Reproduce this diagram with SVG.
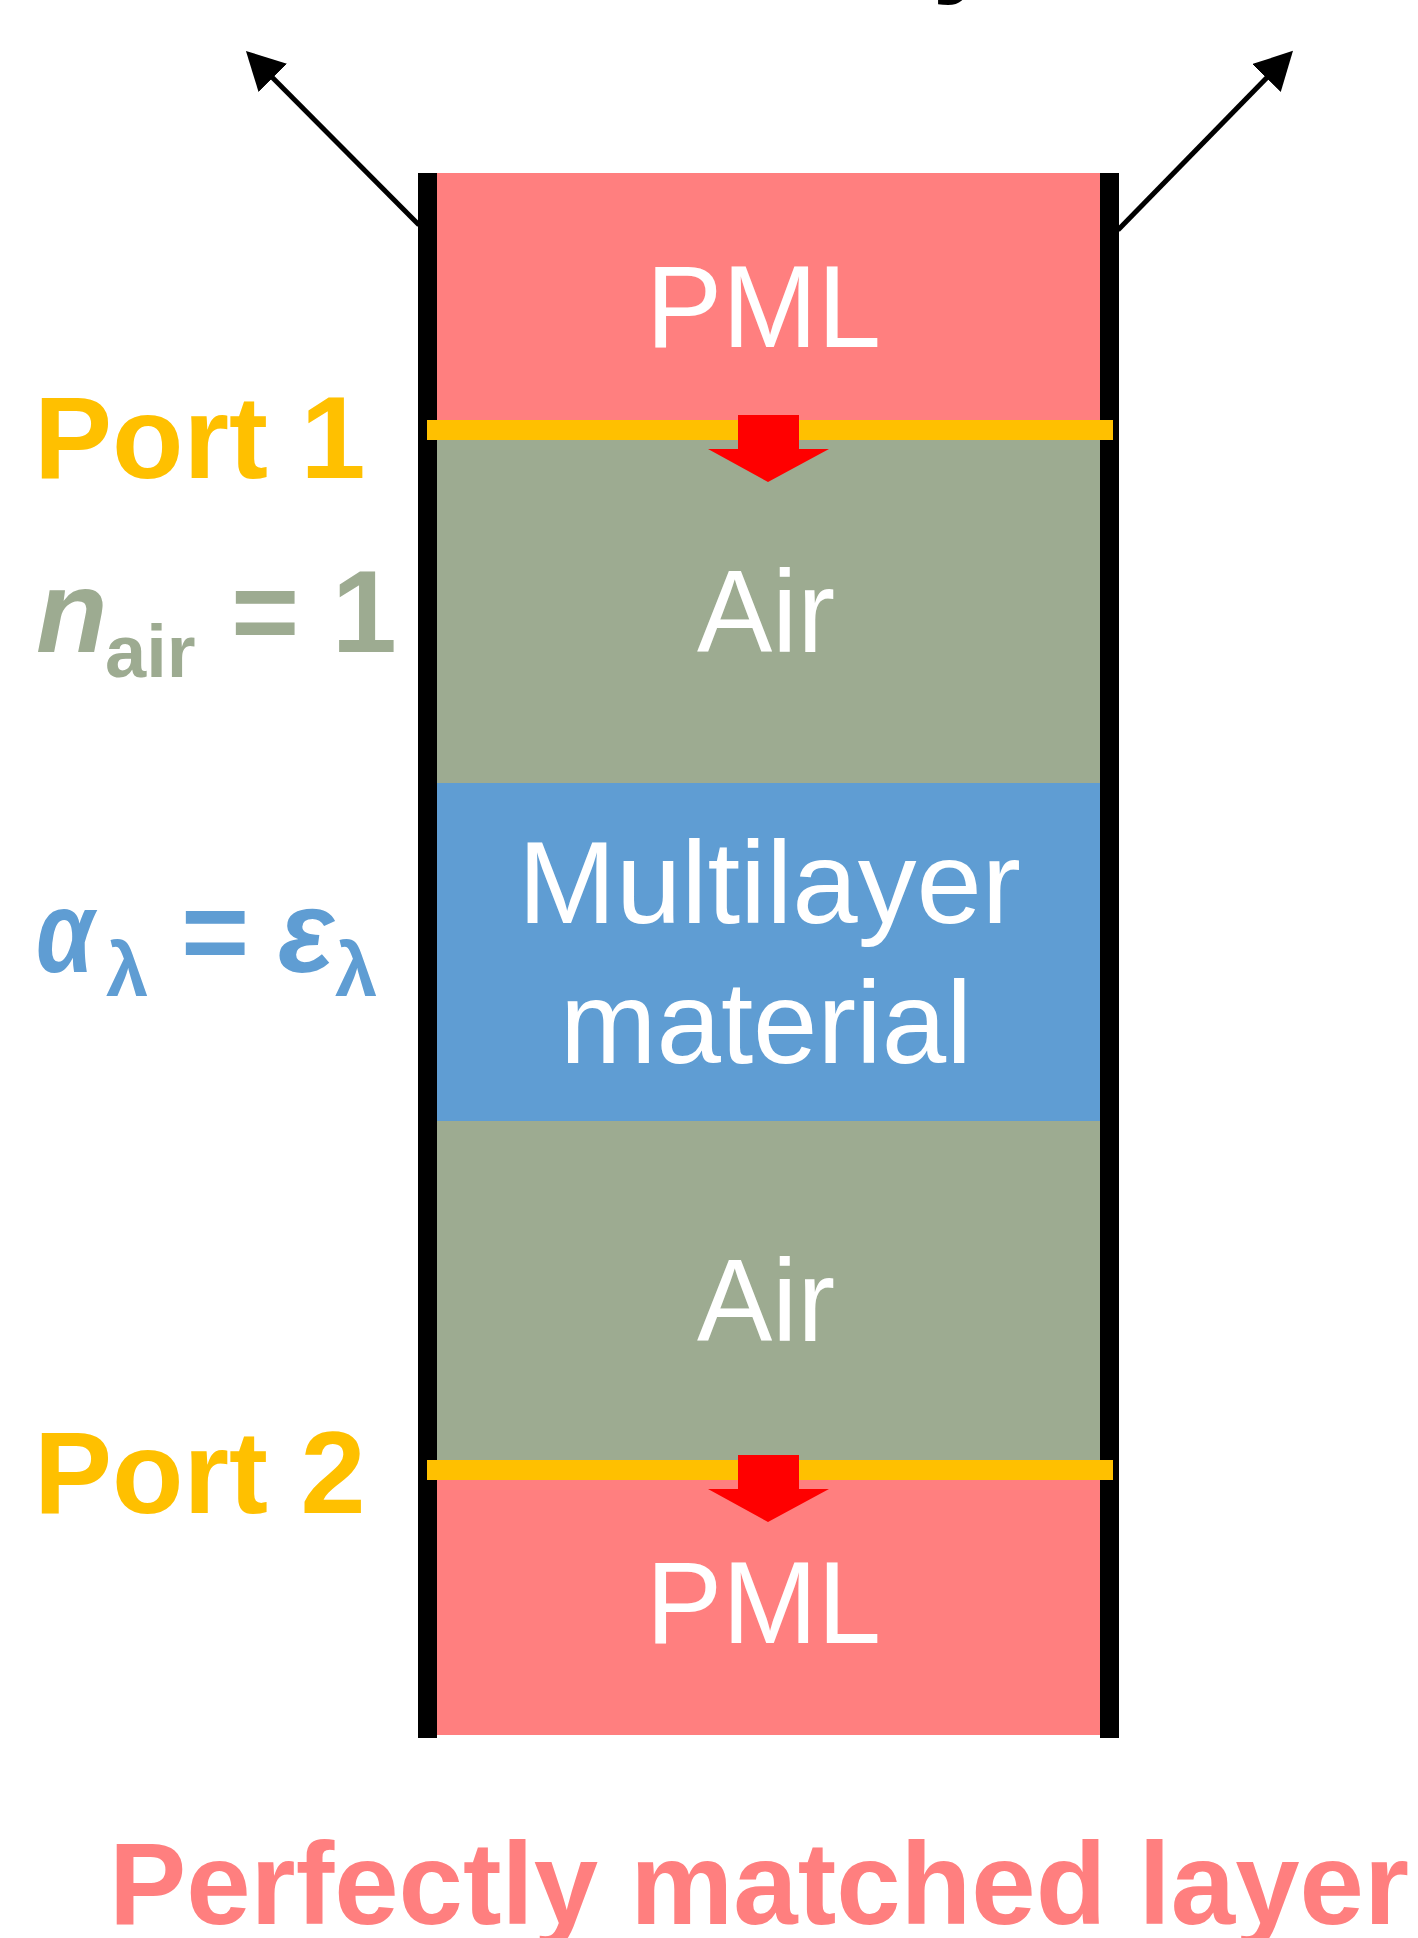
<svg xmlns="http://www.w3.org/2000/svg" width="1418" height="1938" viewBox="0 0 1418 1938">
<style>
.lbl{font-family:"Liberation Sans",Arial,sans-serif;fill:#fff;font-size:117px}
.bold{font-family:"Liberation Sans",Arial,sans-serif;font-weight:bold;font-size:117px}
.pml{fill:#FF7F7F}
.air{fill:#9DAB91}
.ml{fill:#5F9DD3}
.bar{fill:#000}
.port{fill:#FFC000}
.flow{fill:#FF0000}
.ray{stroke:#000;stroke-width:5;fill:none}
</style>
<defs>
<marker id="ah" viewBox="0 0 38 40" refX="28" refY="20" markerWidth="38" markerHeight="40" markerUnits="userSpaceOnUse" orient="auto">
<path d="M0,0 L38,20 L0,40 z" fill="#000"/>
</marker>
</defs>
<rect width="1418" height="1938" fill="#fff"/>
<text class="bold" x="932" y="-19" fill="#000">y</text>
<g id="pml-top"><rect class="pml" x="437" y="173" width="663" height="257"/><text class="lbl" x="646" y="347" textLength="235" lengthAdjust="spacingAndGlyphs">PML</text></g>
<g id="air-top"><rect class="air" x="437" y="430" width="663" height="353"/><text class="lbl" x="697" y="652" textLength="138" lengthAdjust="spacingAndGlyphs">Air</text></g>
<g id="multilayer"><rect class="ml" x="437" y="783" width="663" height="338"/><text class="lbl" x="518" y="923" textLength="503" lengthAdjust="spacingAndGlyphs">Multilayer</text><text class="lbl" x="560" y="1063" textLength="412" lengthAdjust="spacingAndGlyphs">material</text></g>
<g id="air-bottom"><rect class="air" x="437" y="1121" width="663" height="349"/><text class="lbl" x="697" y="1341" textLength="138" lengthAdjust="spacingAndGlyphs">Air</text></g>
<g id="pml-bottom"><rect class="pml" x="437" y="1470" width="663" height="265"/><text class="lbl" x="646" y="1643" textLength="235" lengthAdjust="spacingAndGlyphs">PML</text></g>
<g id="boundaries"><rect class="bar" x="418" y="173" width="19" height="1565"/><rect class="bar" x="1100" y="173" width="19" height="1565"/></g>
<g id="port1"><rect class="port" x="427" y="420" width="686" height="20"/><polygon class="flow" points="738,415 799,415 799,449 829,449 768,482 708,449 738,449"/><text class="bold" x="34" y="478" fill="#FFC000">Port 1</text></g>
<g id="port2"><rect class="port" x="427" y="1460" width="686" height="20"/><polygon class="flow" points="738,1455 799,1455 799,1489 829,1489 768,1522 708,1489 738,1489"/><text class="bold" x="34" y="1513" fill="#FFC000">Port 2</text></g>
<g id="connectors">
<line class="ray" x1="419" y1="225" x2="253" y2="58" marker-end="url(#ah)"/>
<line class="ray" x1="1118" y1="230" x2="1286" y2="58" marker-end="url(#ah)"/>
</g>
<g id="n-air"><text class="bold" y="652" fill="#9DAB91"><tspan x="36" font-style="italic">n</tspan><tspan x="105" y="677" font-size="74">air</tspan><tspan x="231" y="652">= 1</tspan></text></g>
<g id="alpha-eps" fill="#5F9DD3">
<text class="bold" transform="translate(36,972) scale(0.8,1)" x="0" y="0" font-style="italic">α</text>
<text class="bold" y="996"><tspan x="106" font-size="76">λ</tspan><tspan x="181" y="972">=</tspan><tspan x="278" font-style="italic">ε</tspan><tspan x="335" y="996" font-size="76">λ</tspan></text>
</g>
<g id="pml-caption"><text class="bold" x="109" y="1924" fill="#FF7F7F" textLength="1300" lengthAdjust="spacingAndGlyphs">Perfectly matched layer</text></g>
</svg>
